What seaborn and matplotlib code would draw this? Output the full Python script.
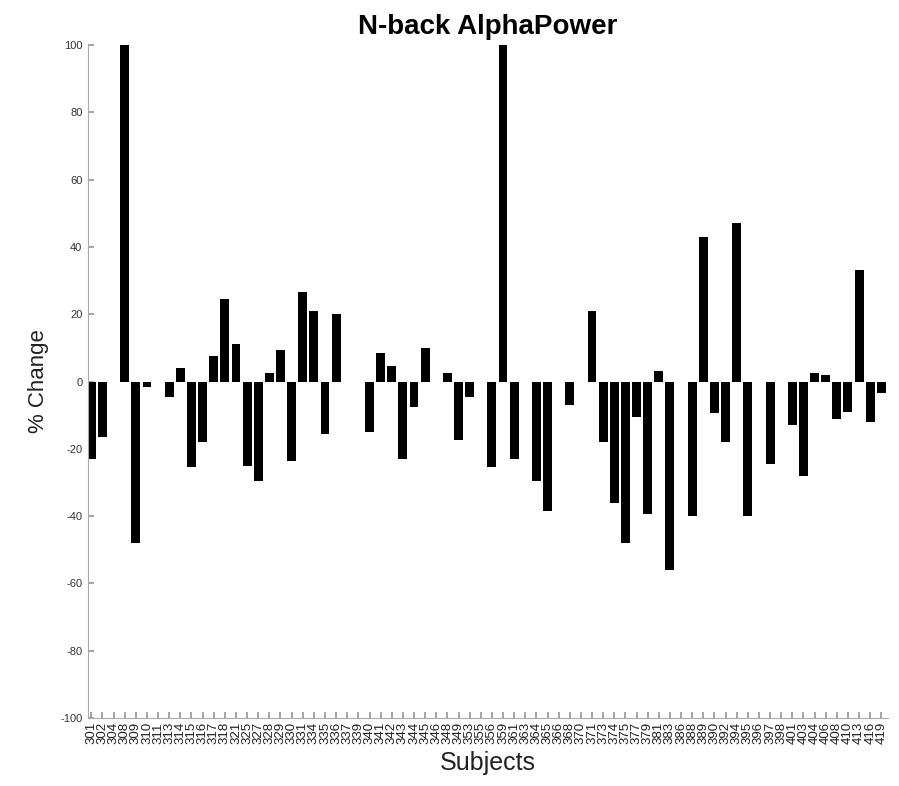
import matplotlib
matplotlib.use("Agg")
import matplotlib.pyplot as plt
import seaborn as sns
import pandas as pd

subjects = [301, 302, 304, 308, 309, 310, 311, 313, 314, 315,
            316, 317, 318, 321, 325, 327, 328, 329, 330, 331,
            334, 335, 336, 337, 339, 340, 341, 342, 343, 344,
            345, 346, 348, 349, 353, 355, 356, 359, 361, 363,
            364, 365, 366, 368, 370, 371, 373, 374, 375, 377,
            379, 381, 383, 386, 388, 389, 390, 392, 394, 395,
            396, 397, 398, 401, 403, 404, 406, 408, 410, 413,
            416, 419]

pct_change = [-23, -16.5, 0, 100, -48, -1.5, 0, -4.5, 4, -25.5,
              -18, 7.5, 24.5, 11, -25, -29.5, 2.5, 9.5, -23.5, 26.5,
              21, -15.5, 20, 0, 0, -15, 8.5, 4.5, -23, -7.5,
              10, 0, 2.5, -17.5, -4.5, 0, -25.5, 100, -23, 0,
              -29.5, -38.5, 0, -7, 0, 21, -18, -36, -48, -10.5,
              -39.5, 3, -56, 0, -40, 43, -9.5, -18, 47, -40,
              0, -24.5, 0, -13, -28, 2.5, 2, -11, -9, 33,
              -12, -3.5]

y_ticks = [-100, -80, -60, -40, -20, 0, 20, 40, 60, 80, 100]

df = pd.DataFrame({"Subject": [str(s) for s in subjects], "Change": pct_change})

sns.set_theme(style="white")
plt.rcParams["font.family"] = ["Liberation Sans", "DejaVu Sans"]

fig = plt.figure(figsize=(8.99, 7.86), dpi=100)
ax = fig.add_axes([88 / 899, 1 - 718 / 786, 800 / 899, (718 - 45) / 786])

sns.barplot(data=df, x="Subject", y="Change", color="black", saturation=1,
            width=0.8, order=df["Subject"].tolist(), ax=ax, edgecolor="none")

ax.set_ylim(-100, 100)
ax.set_xlim(-0.3, len(subjects) - 0.4)
ax.set_yticks(y_ticks)
ax.set_yticklabels([str(t) for t in y_ticks], fontsize=8, color="#333333")
ax.tick_params(axis="x", labelrotation=90, labelsize=9.5, labelcolor="#222222",
               direction="in", length=4, color="#999999", pad=3)
ax.tick_params(axis="y", direction="in", length=4, color="#999999", pad=4)
ax.tick_params(bottom=True, left=True)

for side in ["top", "right"]:
    ax.spines[side].set_visible(False)
for side in ["left", "bottom"]:
    ax.spines[side].set_color("#aaaaaa")
    ax.spines[side].set_linewidth(0.8)

ax.set_xlabel("Subjects", fontsize=18, color="#222222", labelpad=5)
ax.set_ylabel("% Change", fontsize=16, color="#222222", labelpad=8)
ax.set_title("N-back AlphaPower", fontsize=20, fontweight="bold", color="black", pad=8)
ax.grid(False)

fig.savefig("out.png", dpi=100)
